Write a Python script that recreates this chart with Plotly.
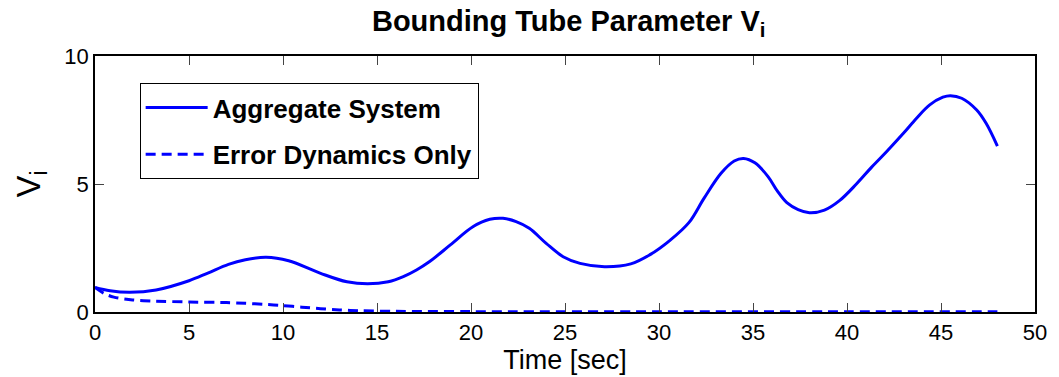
import plotly.graph_objects as go

# Aggregate system bound V_i over time
t_agg = [0, 0.8, 1.85, 3.25, 5.0, 6.0, 7.1, 8.0, 9.1, 10.3, 12.0, 13.4, 14.5,
         15.6, 16.4, 17.1, 17.8, 18.9, 20.1, 21.0, 21.7, 22.4, 23.1, 24.0, 24.9,
         25.8, 27.1, 28.5, 29.5, 30.6, 31.6, 32.4, 33.3, 34.0, 34.5, 35.1, 35.8,
         36.3, 36.8, 37.4, 38.0, 38.8, 39.6, 40.5, 41.3, 42.1, 43.0, 43.7, 44.4,
         45.1, 45.5, 46.1, 46.9, 47.4, 48.0]
v_agg = [0.96, 0.83, 0.77, 0.86, 1.22, 1.52, 1.86, 2.04, 2.14, 2.0, 1.51, 1.18,
         1.10, 1.18, 1.38, 1.64, 1.97, 2.62, 3.33, 3.62, 3.66, 3.53, 3.27, 2.68,
         2.16, 1.90, 1.77, 1.88, 2.23, 2.81, 3.50, 4.45, 5.42, 5.90, 6.00, 5.83,
         5.29, 4.72, 4.27, 4.00, 3.88, 3.98, 4.35, 5.00, 5.65, 6.26, 6.98, 7.57,
         8.09, 8.39, 8.45, 8.35, 7.89, 7.37, 6.48]

# Error dynamics only
t_err = [0, 0.5, 1, 2, 3, 5, 7, 8, 9, 10, 11, 12, 13, 14, 16, 20, 30, 40, 48]
v_err = [0.96, 0.72, 0.58, 0.47, 0.43, 0.39, 0.37, 0.34, 0.30, 0.25, 0.19, 0.13,
         0.08, 0.05, 0.025, 0.015, 0.01, 0.01, 0.01]

x_ticks = [0, 5, 10, 15, 20, 25, 30, 35, 40, 45, 50]
y_ticks = [0, 5, 10]

BLUE = "rgb(0,0,255)"
FONT = "Liberation Sans, Arial, Helvetica, sans-serif"

fig = go.Figure()
fig.add_trace(go.Scatter(
    x=t_agg, y=v_agg, mode="lines", name="Aggregate System",
    line=dict(color=BLUE, width=3, shape="spline", smoothing=1.0),
    legendgroup="a",
))
fig.add_trace(go.Scatter(
    x=t_err, y=v_err, mode="lines", name="Error Dynamics Only",
    line=dict(color=BLUE, width=3, dash="10px,6px", shape="spline", smoothing=0.8),
    legendgroup="b",
))

axis_common = dict(
    showline=True, linecolor="black", linewidth=1.5, mirror="ticks",
    ticks="inside", ticklen=9, tickcolor="#444", tickwidth=1,
    showgrid=False, zeroline=False,
    tickfont=dict(family=FONT, size=22, color="black"),
)

fig.update_layout(
    width=1059, height=377,
    margin=dict(l=95, r=16, t=56, b=65),
    paper_bgcolor="white", plot_bgcolor="white",
    title=dict(
        text="Bounding Tube Parameter V<sub>i</sub>",
        font=dict(family=FONT, size=29, color="black", weight="bold"),
        x=0.537, xanchor="center", y=0.972, yanchor="top",
    ),
    xaxis=dict(
        range=[0, 50], tickvals=x_ticks, ticktext=[str(v) for v in x_ticks],
        title=dict(text="Time [sec]", font=dict(family=FONT, size=27, color="black"),
                   standoff=1),
        **axis_common,
    ),
    yaxis=dict(
        range=[0, 10], tickvals=y_ticks, ticktext=[str(v) for v in y_ticks],
        title=dict(text="V<sub>i</sub>", font=dict(family=FONT, size=33, color="black"),
                   standoff=14),
        **axis_common,
    ),
    legend=dict(
        x=0.0475, y=0.8945, xanchor="left", yanchor="top",
        bgcolor="white", bordercolor="black", borderwidth=1,
        font=dict(family=FONT, size=26, color="black", weight="bold"),
        traceorder="grouped", tracegroupgap=10, itemwidth=62,
    ),
    showlegend=True,
)

fig.write_html("out.html")
